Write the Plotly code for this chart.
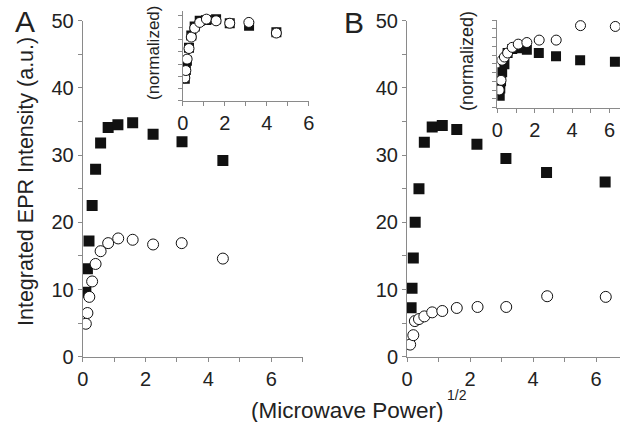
import plotly.graph_objects as go

# ---- Panel A (main) ----
a_sq_x = [0.10, 0.15, 0.20, 0.30, 0.41, 0.57, 0.81, 1.12, 1.59, 2.24, 3.16, 4.46]
a_sq_y = [9.6, 13.1, 17.2, 22.5, 27.9, 31.8, 34.1, 34.5, 34.8, 33.1, 32.0, 29.2]
a_ci_x = [0.10, 0.15, 0.21, 0.30, 0.41, 0.57, 0.81, 1.13, 1.59, 2.24, 3.15, 4.46]
a_ci_y = [4.9, 6.5, 8.9, 11.2, 13.8, 15.7, 16.9, 17.6, 17.4, 16.7, 16.9, 14.6]

# ---- Panel A (inset, normalized) ----
ai_sq_y = [0.27, 0.375, 0.49, 0.65, 0.80, 0.91, 0.98, 0.99, 1.0, 0.95, 0.92, 0.84]
ai_ci_y = [0.28, 0.37, 0.51, 0.64, 0.78, 0.89, 0.96, 1.0, 0.98, 0.95, 0.96, 0.83]

# ---- Panel B (main) ----
b_sq_x = [0.13, 0.16, 0.20, 0.26, 0.38, 0.55, 0.80, 1.12, 1.58, 2.22, 3.14, 4.43, 6.29]
b_sq_y = [7.3, 10.2, 14.7, 20.0, 25.0, 31.9, 34.2, 34.4, 33.8, 31.6, 29.5, 27.4, 26.0]
b_ci_x = [0.10, 0.20, 0.25, 0.38, 0.55, 0.80, 1.12, 1.58, 2.24, 3.15, 4.45, 6.31]
b_ci_y = [1.8, 3.2, 5.3, 5.6, 6.0, 6.6, 6.8, 7.25, 7.4, 7.4, 9.0, 8.9]

# ---- Panel B (inset, normalized) ----
bi_sq_y = [0.13, 0.22, 0.31, 0.42, 0.52, 0.66, 0.71, 0.72, 0.70, 0.66, 0.62, 0.57, 0.55]
bi_ci_y = [0.20, 0.32, 0.57, 0.61, 0.66, 0.73, 0.77, 0.79, 0.82, 0.82, 1.0, 0.99]

x_ticks = [0, 2, 4, 6]
y_ticks = [0, 10, 20, 30, 40, 50]

W, H = 620, 422
FONT = "Liberation Sans, Arial, sans-serif"
AX = "#8a8a8a"
TXT = "#222222"


def px_x(p):
    return p / W


def px_y(p):
    return 1 - p / H


sq = dict(symbol="square", size=11, color="#111111", line=dict(width=0))
ci = dict(symbol="circle", size=11, color="white", line=dict(width=1, color="#111111"))
sq_s = dict(symbol="square", size=10, color="#111111", line=dict(width=0))
ci_s = dict(symbol="circle", size=10, color="white", line=dict(width=1, color="#111111"))

fig = go.Figure()
fig.add_trace(go.Scatter(x=a_sq_x, y=a_sq_y, mode="markers", marker=sq, xaxis="x", yaxis="y"))
fig.add_trace(go.Scatter(x=a_ci_x, y=a_ci_y, mode="markers", marker=ci, xaxis="x", yaxis="y"))
fig.add_trace(go.Scatter(x=b_sq_x, y=b_sq_y, mode="markers", marker=sq, xaxis="x2", yaxis="y2"))
fig.add_trace(go.Scatter(x=b_ci_x, y=b_ci_y, mode="markers", marker=ci, xaxis="x2", yaxis="y2"))
fig.add_trace(go.Scatter(x=a_sq_x, y=ai_sq_y, mode="markers", marker=sq_s, xaxis="x3", yaxis="y3"))
fig.add_trace(go.Scatter(x=a_ci_x, y=ai_ci_y, mode="markers", marker=ci_s, xaxis="x3", yaxis="y3"))
fig.add_trace(go.Scatter(x=b_sq_x, y=bi_sq_y, mode="markers", marker=sq_s, xaxis="x4", yaxis="y4"))
fig.add_trace(go.Scatter(x=b_ci_x, y=bi_ci_y, mode="markers", marker=ci_s, xaxis="x4", yaxis="y4"))

common = dict(showline=True, linecolor=AX, linewidth=1, ticks="outside", ticklen=4,
              tickcolor=AX, tickwidth=1, showgrid=False, zeroline=False, automargin=False,
              tickfont=dict(family=FONT, size=20, color=TXT), fixedrange=True)

def xax(domain, rng, anchor, size=20):
    d = dict(common)
    d.update(domain=domain, range=rng, anchor=anchor, tickmode="array", tickvals=x_ticks,
             tickfont=dict(family=FONT, size=size, color=TXT),
             minor=dict(ticks="outside", ticklen=4, tickcolor=AX, dtick=1, tick0=0, showgrid=False))
    return d

def yax(domain, rng, anchor):
    d = dict(common)
    d.update(domain=domain, range=rng, anchor=anchor, tickmode="array", tickvals=y_ticks,
             minor=dict(ticks="outside", ticklen=4, tickcolor=AX, dtick=5, tick0=0, showgrid=False))
    return d

def yin(domain, rng, anchor, t0, dt):
    d = dict(common)
    d.update(domain=domain, range=rng, anchor=anchor, showticklabels=False,
             tickmode="linear", tick0=t0, dtick=dt,
             minor=dict(ticks="outside", ticklen=4, tickcolor=AX, dtick=dt / 2, tick0=t0, showgrid=False))
    return d

layout = dict(
    template="none",
    width=W, height=H, margin=dict(l=0, r=0, t=0, b=0, autoexpand=False),
    paper_bgcolor="white", plot_bgcolor="rgba(0,0,0,0)", showlegend=False,
    hovermode=False,
    xaxis=xax([px_x(82.7), px_x(302.7)], [0, 7], "y"),
    yaxis=yax([px_y(356.7), px_y(20.7)], [0, 50], "x"),
    xaxis2=xax([px_x(407), 1.0], [0, (620 - 407) / 31.5], "y2"),
    yaxis2=yax([px_y(356.7), px_y(20.7)], [0, 50], "x2"),
    xaxis3=xax([px_x(182.7), px_x(308.7)], [0, 6], "y3"),
    yaxis3=yin([px_y(100.7), px_y(11)], [0, 1.1], "x3", 0, 0.3),
    xaxis4=xax([px_x(497.3), 1.0], [0, (620 - 497.3) / 18.7], "y4"),
    yaxis4=yin([px_y(107.7), px_y(20)], [-0.02, 1.07], "x4", -0.02, 0.218),
)
fig.update_layout(**layout)

ann = [
    dict(text="A", x=px_x(25), y=px_y(22), font=dict(size=30, family=FONT, color=TXT)),
    dict(text="B", x=px_x(354), y=px_y(23), font=dict(size=30, family=FONT, color=TXT)),
    dict(text="Integrated EPR Intensity (a.u.)", x=px_x(26), y=px_y(182), textangle=-90,
         font=dict(size=21.5, family=FONT, color=TXT)),
    dict(text="(normalized)", x=px_x(153), y=px_y(53), textangle=-90,
         font=dict(size=17, family=FONT, color=TXT)),
    dict(text="(normalized)", x=px_x(467), y=px_y(61), textangle=-90,
         font=dict(size=18, family=FONT, color=TXT)),
    dict(text="(Microwave Power)", x=px_x(347), y=px_y(410),
         font=dict(size=22.5, family=FONT, color=TXT)),
    dict(text="1/2", x=px_x(457), y=px_y(395),
         font=dict(size=14, family=FONT, color=TXT)),
]
for a in ann:
    a.setdefault("xanchor", "center")
    a.update(xref="paper", yref="paper", showarrow=False, yanchor="middle")
    fig.add_annotation(**a)

fig.write_html("out.html", config={"displayModeBar": False, "staticPlot": True},
               post_script="document.body.style.margin='0';document.body.style.overflow='hidden';")
